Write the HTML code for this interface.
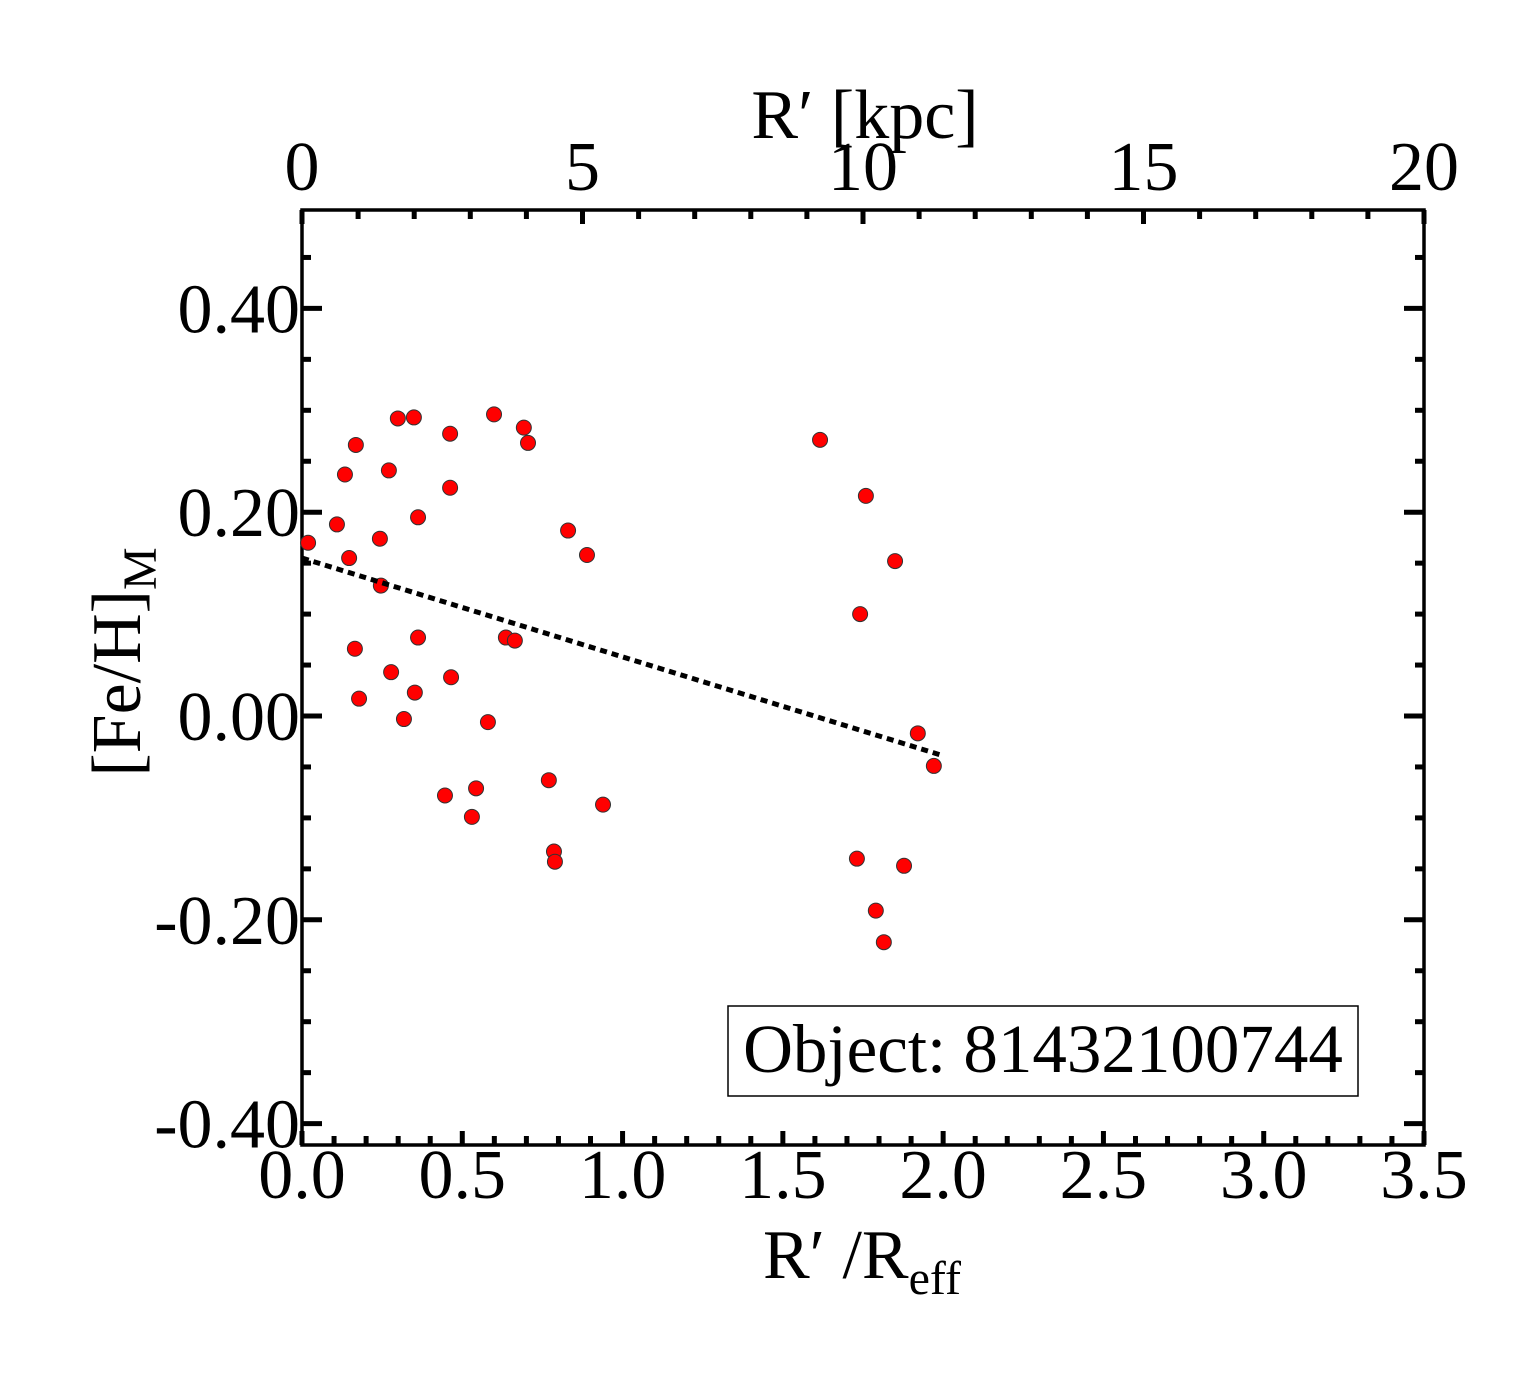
<!DOCTYPE html>
<html><head><meta charset="utf-8"><style>body{margin:0;background:#fff}svg{display:block}text{font-family:"Liberation Serif",serif;fill:#000}</style></head>
<body>
<svg id="chart" width="1540" height="1375">
<g id="axes"></g><g id="marks"></g>
<line id="fit" stroke="#000" stroke-width="5" stroke-dasharray="7,5"/>
<g><rect x="728" y="1006" width="630" height="90" fill="#fff" stroke="#000" stroke-width="1.5"/>
<text x="1043" y="1072" font-size="69" text-anchor="middle">Object: 81432100744</text></g>
<text x="862" y="1278" font-size="70" text-anchor="middle">R′ /R<tspan font-size="48" dy="16">eff</tspan></text>
<text x="865" y="138" font-size="70" text-anchor="middle">R′ [kpc]</text>
<text transform="translate(140,662) rotate(-90)" font-size="70" text-anchor="middle">[Fe/H]<tspan font-size="48" dy="16">M</tspan></text>
</svg>
<script>
const xs=[0.019,0.109,0.134,0.147,0.168,0.165,0.178,0.243,0.246,0.271,0.278,0.299,0.318,0.349,0.352,0.362,0.362,0.446,0.462,0.462,0.465,0.530,0.543,0.580,0.599,0.636,0.664,0.692,0.705,0.770,0.786,0.789,0.830,0.889,0.939,1.616,1.731,1.741,1.759,1.790,1.815,1.850,1.878,1.921,1.971];
const ys=[0.170,0.188,0.237,0.155,0.266,0.066,0.017,0.174,0.128,0.241,0.043,0.292,-0.003,0.293,0.023,0.195,0.077,-0.078,0.277,0.224,0.038,-0.099,-0.071,-0.006,0.296,0.077,0.074,0.283,0.268,-0.063,-0.133,-0.143,0.182,0.158,-0.087,0.271,-0.140,0.100,0.216,-0.191,-0.222,0.152,-0.147,-0.017,-0.049];
const fitX=[0,2.0];
const fitY=[0.155,-0.039];
const xTicks=["0.0","0.5","1.0","1.5","2.0","2.5","3.0","3.5"];
const yTicks=["-0.40","-0.20","0.00","0.20","0.40"];
const topTicks=["0","5","10","15","20"];
const L=302,R=1424,T=210,B=1145;
const X=v=>L+v*(R-L)/3.5, Y=v=>716-v*1019, XK=v=>L+v*(R-L)/20;
const NS="http://www.w3.org/2000/svg";
function mk(t,a,p){const e=document.createElementNS(NS,t);for(const k in a)e.setAttribute(k,a[k]);p.appendChild(e);return e;}
const ax=document.getElementById('axes');
const fr=mk('rect',{x:L,y:T,width:R-L,height:B-T,fill:'none',stroke:'#000','stroke-width':3.5},ax);


for(let i=0;i<=35;i++){const x=X(i/10),len=i%5==0?14:9;
mk('line',{x1:x,x2:x,y1:B,y2:B-len,stroke:'#000','stroke-width':5},ax);}
for(let i=0;i<=20;i++){const x=XK(i),len=i%5==0?14:9;
mk('line',{x1:x,x2:x,y1:T,y2:T+len,stroke:'#000','stroke-width':5},ax);}
for(let i=-8;i<=9;i++){const y=Y(i*0.05);if(y<T||y>B)continue;const len=i%4==0?20:9;
mk('line',{x1:L,x2:L+len,y1:y,y2:y,stroke:'#000','stroke-width':5},ax);
mk('line',{x1:R,x2:R-len,y1:y,y2:y,stroke:'#000','stroke-width':5},ax);}
xTicks.forEach(s=>{const t=mk('text',{x:X(parseFloat(s)),y:1198,'font-size':70,'text-anchor':'middle'},ax);t.textContent=s;

});
topTicks.forEach(s=>{const t=mk('text',{x:XK(parseFloat(s)),y:190,'font-size':70,'text-anchor':'middle'},ax);t.textContent=s;

});
yTicks.forEach(s=>{const t=mk('text',{x:300,y:Y(parseFloat(s))+24,'font-size':70,'text-anchor':'end'},ax);t.textContent=s;

});
const f=document.getElementById('fit');
f.setAttribute('x1',X(fitX[0]));f.setAttribute('y1',Y(fitY[0]));f.setAttribute('x2',X(fitX[1]));f.setAttribute('y2',Y(fitY[1]));
const mg=document.getElementById('marks');
xs.forEach((v,i)=>{const c=mk('circle',{cx:X(v),cy:Y(ys[i]),r:7.5,fill:'#f00',stroke:'#333','stroke-width':1},mg);

});
</script>
</body></html>
